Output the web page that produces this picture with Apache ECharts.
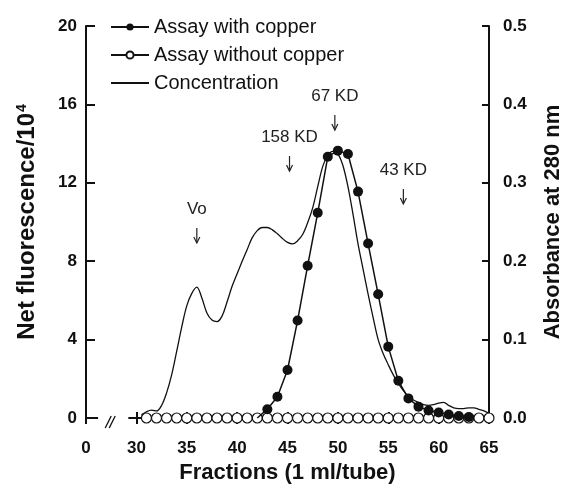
<!DOCTYPE html>
<html>
<head>
<meta charset="utf-8">
<script src="https://cdn.jsdelivr.net/npm/echarts@6/dist/echarts.min.js"></script>
<style>
html, body { margin: 0; padding: 0; background: #fff; }
#chart { width: 573px; height: 487px; }
</style>
</head>
<body>
<div id="chart"></div>
<script>
const FONT = '"Liberation Sans", Arial, Helvetica, sans-serif'
const INK = '#111'

// assay without copper: every tube, all zero
const plainFractions = [31, 32, 33, 34, 35, 36, 37, 38, 39, 40, 41, 42, 43, 44, 45, 46, 47, 48,
    49, 50, 51, 52, 53, 54, 55, 56, 57, 58, 59, 60, 61, 62, 63, 64, 65]
const plainValues = [0, 0, 0, 0, 0, 0, 0, 0, 0, 0, 0, 0, 0, 0, 0, 0, 0, 0,
    0, 0, 0, 0, 0, 0, 0, 0, 0, 0, 0, 0, 0, 0, 0, 0, 0]

// assay with copper (net fluorescence / 10^4)
const copperFractions = [42, 43, 44, 45, 46, 47, 48, 49, 50, 51, 52, 53, 54, 55, 56, 57, 58, 59, 60, 61, 62, 63]
const copperValues = [0, 0.45, 1.08, 2.45, 4.97, 7.77, 10.47, 13.33, 13.64, 13.47, 11.55, 8.9,
    6.31, 3.64, 1.9, 1.0, 0.58, 0.38, 0.28, 0.18, 0.1, 0.05]

// protein concentration (absorbance at 280 nm)
const concFractions = [30.5, 31, 31.5, 32, 32.5, 33, 33.5, 34, 34.5, 35, 35.5, 36, 36.5, 37, 37.5, 38,
    38.5, 39, 39.5, 40, 40.5, 41, 41.5, 42, 42.5, 43, 43.5, 44, 44.5, 45, 45.5, 46, 46.5, 47, 47.5, 48,
    48.5, 49, 49.5, 50, 50.5, 51, 51.5, 52, 52.5, 53, 53.5, 54, 54.5, 55, 55.5, 56, 56.5, 57, 57.5, 58,
    58.5, 59, 59.5, 60, 60.5, 61, 61.5, 62, 62.5, 63, 63.5, 64, 64.5, 65]
const concValues = [0.004, 0.008, 0.01, 0.009, 0.016, 0.032, 0.055, 0.085, 0.116, 0.143, 0.159, 0.167,
    0.153, 0.134, 0.125, 0.123, 0.13, 0.148, 0.168, 0.184, 0.2, 0.215, 0.23, 0.239, 0.243, 0.243,
    0.24, 0.235, 0.229, 0.224, 0.222, 0.226, 0.234, 0.249, 0.268, 0.295, 0.321, 0.335, 0.34, 0.337,
    0.322, 0.295, 0.26, 0.222, 0.19, 0.158, 0.128, 0.1, 0.082, 0.068, 0.055, 0.044, 0.035, 0.028,
    0.023, 0.02, 0.017, 0.016, 0.017, 0.019, 0.02, 0.016, 0.013, 0.012, 0.012, 0.013, 0.013, 0.011,
    0.009, 0.006]

// molecular weight markers: label, fraction, arrow tip (left axis units)
const markerNames = ['Vo', '158 KD', '67 KD', '43 KD']
const markerFractions = [36, 45.2, 49.7, 56.5]
const markerLevels = [8.93, 12.6, 14.69, 10.92]

// x axis: "0" sits at 25, the gap between these two values is broken
const xBreak = [26.2, 29.2]

const pairs = (xs, ys) => xs.map((x, i) => [x, ys[i]])

const axisLine = {lineStyle: {color: INK, width: 2}}
const tickStyle = {color: INK, width: 2}
const labelStyle = {fontFamily: FONT, fontSize: 17, fontWeight: 'bold', color: INK}
const nameStyle = {fontFamily: FONT, fontSize: 22, fontWeight: 'bold', color: INK}

const chart = echarts.init(document.getElementById('chart'))

chart.setOption({
    animation: false,
    textStyle: {fontFamily: FONT},
    grid: {left: 86, right: 84, top: 26, bottom: 69, containLabel: false, outerBoundsMode: 'none'},
    legend: {
        orient: 'vertical',
        left: 105,
        top: 12,
        itemWidth: 38,
        itemHeight: 9,
        itemGap: 8,
        textStyle: {fontFamily: FONT, fontSize: 20, color: INK, lineHeight: 20},
        data: [
            'Assay with copper',
            'Assay without copper',
            {name: 'Concentration', itemStyle: {opacity: 0}}
        ]
    },
    xAxis: [
        {
            type: 'value', min: 25, max: 65, interval: 5, position: 'bottom',
            name: 'Fractions (1 ml/tube)', nameLocation: 'middle', nameGap: 41, nameTextStyle: nameStyle,
            axisLine: {show: false},
            axisTick: {show: true, inside: true, length: 6, lineStyle: tickStyle},
            axisLabel: Object.assign({margin: 22, formatter: v => (v === 25 ? '0' : String(v))}, labelStyle),
            splitLine: {show: false}
        },
        {
            type: 'value', min: 25, max: 65, interval: 5, position: 'bottom',
            axisLine: {show: false},
            axisTick: {show: true, inside: false, length: 6, lineStyle: tickStyle},
            axisLabel: {show: false},
            splitLine: {show: false}
        }
    ],
    yAxis: [
        {
            type: 'value', min: 0, max: 20, interval: 4, position: 'left',
            name: 'Net fluorescence/10{sup|4}', nameLocation: 'middle', nameRotate: 90, nameGap: 47,
            nameTextStyle: Object.assign({}, nameStyle, {
                fontSize: 24,
                rich: {sup: {fontFamily: FONT, fontSize: 14, fontWeight: 'bold', color: INK, verticalAlign: 'top', padding: [0, 0, 0, 1]}}
            }),
            axisLine: Object.assign({show: true}, axisLine),
            axisTick: {show: true, inside: true, length: 9, lineStyle: tickStyle},
            axisLabel: Object.assign({margin: 9}, labelStyle),
            splitLine: {show: false}
        },
        {
            type: 'value', min: 0, max: 0.5, interval: 0.1, position: 'right',
            name: 'Absorbance at 280 nm', nameLocation: 'middle', nameRotate: 90, nameGap: 53,
            nameTextStyle: nameStyle,
            axisLine: Object.assign({show: true}, axisLine),
            axisTick: {show: true, inside: true, length: 7, lineStyle: tickStyle},
            axisLabel: Object.assign({margin: 14, formatter: v => v.toFixed(1)}, labelStyle),
            splitLine: {show: false}
        }
    ],
    series: [
        {
            name: 'Concentration',
            type: 'line',
            yAxisIndex: 1,
            data: pairs(concFractions, concValues),
            showSymbol: false,
            symbol: 'none',
            smooth: 0.35,
            lineStyle: {color: INK, width: 1.3},
            itemStyle: {color: INK},
            z: 2
        },
        {
            name: 'Assay without copper',
            type: 'line',
            data: pairs(plainFractions, plainValues),
            symbol: 'circle',
            symbolSize: 10,
            lineStyle: {color: INK, width: 1.2},
            itemStyle: {color: '#fff', borderColor: INK, borderWidth: 1.2},
            z: 3
        },
        {
            name: 'Assay with copper',
            type: 'line',
            data: pairs(copperFractions, copperValues),
            symbol: 'circle',
            symbolSize: v => (v[1] > 0.01 ? 10 : 0),
            lineStyle: {color: INK, width: 1.5},
            itemStyle: {color: INK, borderColor: INK, borderWidth: 0},
            z: 4
        }
    ]
})

// axis break, broken x axis line and the marker arrows
function drawDecor () {
    const px = (x, y) => chart.convertToPixel({xAxisIndex: 0, yAxisIndex: 0}, [x, y])
    const graphics = []
    const lineShape = (a, b) => ({x1: a[0], y1: a[1], x2: b[0], y2: b[1]})

    const a0 = px(25, 0)
    const b0 = px(xBreak[0], 0)
    const b1 = px(xBreak[1], 0)
    const a1 = px(65, 0)
    graphics.push({type: 'line', shape: lineShape(a0, b0), style: {stroke: INK, lineWidth: 2}, z: 0})
    graphics.push({type: 'line', shape: lineShape(b1, a1), style: {stroke: INK, lineWidth: 2}, z: 0})

    const mid = (b0[0] + b1[0]) / 2 - 3
    const yb = a0[1] + 4
    ;[-2, 2].forEach(dx => {
        graphics.push({
            type: 'line',
            shape: {x1: mid + dx - 3, y1: yb + 6, x2: mid + dx + 3, y2: yb - 6},
            style: {stroke: INK, lineWidth: 1.3}
        })
    })

    markerNames.forEach((name, i) => {
        const tip = px(markerFractions[i], markerLevels[i])
        const top = tip[1] - 15
        graphics.push({type: 'line', shape: {x1: tip[0], y1: top, x2: tip[0], y2: tip[1]}, style: {stroke: '#222', lineWidth: 1.2}})
        graphics.push({
            type: 'polyline',
            shape: {points: [[tip[0] - 3, tip[1] - 6], [tip[0], tip[1]], [tip[0] + 3, tip[1] - 6]]},
            style: {stroke: '#222', lineWidth: 1.2, fill: null}
        })
        graphics.push({
            type: 'text',
            x: tip[0],
            y: top - 19,
            style: {
                text: name, font: '17px ' + FONT, fill: '#222',
                align: 'center', verticalAlign: 'middle', textAlign: 'center', textVerticalAlign: 'middle'
            }
        })
    })

    chart.setOption({graphic: graphics})
}

drawDecor()
</script>
</body>
</html>
